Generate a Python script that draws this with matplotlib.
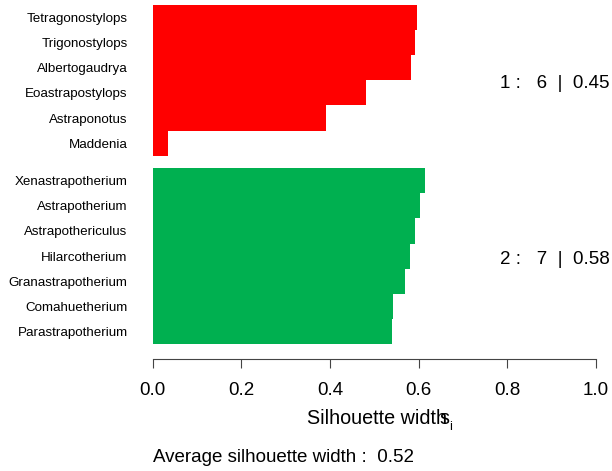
import numpy as np
import matplotlib
matplotlib.use("Agg")
import matplotlib.pyplot as plt

plt.rcParams['font.family'] = ['Liberation Sans', 'DejaVu Sans']

# silhouette widths (top to bottom)
noms_c1 = ["Tetragonostylops", "Trigonostylops", "Albertogaudrya",
           "Eoastrapostylops", "Astraponotus", "Maddenia"]
sil_c1 = [0.597, 0.592, 0.583, 0.481, 0.391, 0.035]
noms_c2 = ["Xenastrapotherium", "Astrapotherium", "Astrapothericulus",
           "Hilarcotherium", "Granastrapotherium", "Comahuetherium",
           "Parastrapotherium"]
sil_c2 = [0.615, 0.603, 0.592, 0.581, 0.570, 0.542, 0.540]
couleurs = ["#FF0000", "#00B050"]
moyenne = 0.52

W, H = 612, 471
fs = 13.5
fig = plt.figure(figsize=(W / 100, H / 100), dpi=100)

# axes en pixels : x 0..1 -> 152.7..595.7, barres de y=5 a y=344
gauche, droite, haut, bas = 152.7, 595.7, 5, 344
ax = fig.add_axes([gauche / W, 1 - bas / H, (droite - gauche) / W, (bas - haut) / H])

gap = 0.5
y1 = np.arange(len(sil_c1)) + 0.5
y2 = np.arange(len(sil_c2)) + len(sil_c1) + gap + 0.5
ax.barh(y1, sil_c1, height=1.0, color=couleurs[0], linewidth=0)
ax.barh(y2, sil_c2, height=1.0, color=couleurs[1], linewidth=0)

ax.set_xlim(0, 1)
ax.set_ylim(len(sil_c1) + len(sil_c2) + gap, 0)

ax.set_yticks(np.concatenate([y1, y2]))
ax.set_yticklabels(noms_c1 + noms_c2, fontsize=9.6)
ax.tick_params(axis='y', length=0, pad=18)

for s in ['top', 'right', 'left']:
    ax.spines[s].set_visible(False)
ax.spines['bottom'].set_position(('outward', 10.8))
ax.spines['bottom'].set_color('#444444')
ax.spines['bottom'].set_linewidth(0.8)
ax.set_xticks([0, 0.2, 0.4, 0.6, 0.8, 1.0])
ax.set_xticklabels(["0.0", "0.2", "0.4", "0.6", "0.8", "1.0"], fontsize=fs)
ax.tick_params(axis='x', direction='out', length=6.5, width=0.8, color='#444444', pad=10)

# titre de l'axe x (avec le s_i qui chevauche comme dans l'original)
fig.text(447.0 / W, 1 - 424.5 / H, "Silhouette width", fontsize=14.2, ha='right', va='baseline')
fig.text(439.3 / W, 1 - 424.5 / H, "s", fontsize=14.2, ha='left', va='baseline')
fig.text(449.0 / W, 1 - 429.5 / H, "i", fontsize=9, ha='left', va='baseline')

# resume par groupe
fig.text(609.3 / W, 1 - 83 / H, "1 :   %d  |  %.2f" % (len(sil_c1), np.mean(sil_c1)),
         fontsize=fs, ha='right', va='center')
fig.text(609.3 / W, 1 - 260 / H, "2 :   %d  |  %.2f" % (len(sil_c2), np.mean(sil_c2)),
         fontsize=fs, ha='right', va='center')

fig.text(152.7 / W, 1 - 461.7 / H, "Average silhouette width :  %.2f" % moyenne,
         fontsize=fs, ha='left', va='baseline')

fig.savefig("out.png", dpi=100)
